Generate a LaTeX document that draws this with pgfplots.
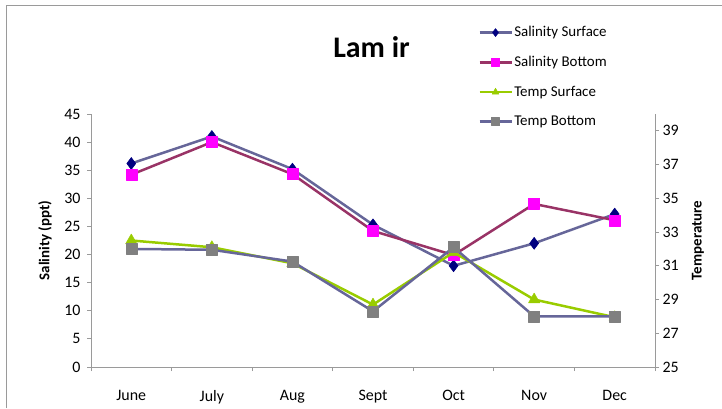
\documentclass[border=0pt]{standalone}
\usepackage{pgfplots}
\pgfplotsset{compat=1.18}
\usepackage{pgfplotstable}
\usepackage{fontspec}
\setmainfont{Carlito}
\definecolor{slate}{HTML}{666699}
\definecolor{navyc}{HTML}{000080}
\definecolor{plum}{HTML}{993366}
\definecolor{magc}{HTML}{FF00FF}
\definecolor{limec}{HTML}{99CC00}
\definecolor{greym}{HTML}{808080}
\definecolor{axgray}{HTML}{9A9A9A}

\pgfplotstableread{
x ss sb ts tb
0.5 36.2 34.2 32.5 32.0
1.5 41.0 40.0 32.1 31.95
2.5 35.2 34.3 31.15 31.25
3.5 25.3 24.2 28.7 28.3
4.5 18.0 19.9 31.8 32.1
5.5 22.0 29.0 29.0 28.0
6.5 27.2 26.1 27.95 28.0
}\datatab

\pgfplotsset{
  base/.style={
    scale only axis, width=564bp, height=253bp,
    at={(91bp,41bp)}, anchor=south west,
    xmin=0, xmax=7, clip=false,
    tick align=outside, major tick length=4bp,
    axis line style={draw=axgray, line width=0.9bp},
    every tick/.style={draw=axgray, line width=0.9bp},
    ticklabel style={font=\fontsize{16}{19}\selectfont},
    /pgf/number format/assume math mode=true,
    label style={font=\fontsize{15}{18}\selectfont\bfseries},
    legend image code/.code={\draw[mark repeat=2,mark phase=2,##1,mark size=4bp] plot coordinates {(0bp,0bp)(16bp,0bp)(32bp,0bp)};},
  },
  ssty/.style={color=slate, line width=2.5bp, line join=round, mark=diamond*, mark size=6bp, mark options={draw=navyc, fill=navyc, line width=0.5bp}},
  sbty/.style={color=plum, line width=2.5bp, line join=round, mark=square*, mark size=5.5bp, mark options={draw=magc, fill=magc, line width=0.5bp}},
  tsty/.style={color=limec, line width=2.5bp, line join=round, mark=triangle*, mark size=6.5bp, mark options={draw=limec, fill=limec, line width=0.5bp}},
  tbty/.style={color=slate, line width=2.5bp, line join=round, mark=square*, mark size=5.5bp, mark options={draw=greym, fill=greym, line width=0.5bp}},
}

\begin{document}
\begin{tikzpicture}[x=1bp,y=1bp]
\useasboundingbox (0,0) rectangle (722,408);
\draw[color=axgray, line width=1.5bp] (6.5,0) -- (6.5,402.5) -- (722,402.5);
\node[font=\fontsize{30}{36}\selectfont\bfseries, anchor=base] at (371.5,351) {Lam ir};

\begin{axis}[base,
  axis x line*=bottom, axis y line*=left,
  ymin=0, ymax=45, ytick={0,5,...,45},
  xtick={0,1,...,7},
  xticklabels={June,July,Aug,Sept,Oct,Nov,Dec},
  x tick label as interval,
  xticklabel style={yshift=-16bp},
  yticklabel style={xshift=-3bp},
  ylabel={Salinity (ppt)},
  ylabel style={at={(axis description cs:-0.0816,0.5)}, anchor=center},
]
\addplot[ssty] table[x=x,y=ss] {\datatab};
\addplot[sbty] table[x=x,y=sb] {\datatab};
\end{axis}

\begin{axis}[base,
  axis x line=none, axis y line*=right,
  ymin=25, ymax=40, ytick={25,27,...,39},
  ylabel={Temperature},
  ylabel style={at={(axis description cs:1.076,0.5)}, anchor=center},
  legend style={at={(axis description cs:0.681,1.36)}, anchor=north west,
    draw=none, fill=none, font=\fontsize{15}{18}\selectfont,
    row sep=15bp, nodes={inner sep=1.5bp}, cells={anchor=west}},
]
\addlegendimage{ssty}
\addlegendentry{Salinity Surface}
\addlegendimage{sbty}
\addlegendentry{Salinity Bottom}
\addplot[tsty] table[x=x,y=ts] {\datatab};
\addlegendentry{Temp Surface}
\addplot[tbty] table[x=x,y=tb] {\datatab};
\addlegendentry{Temp Bottom}
\end{axis}
\end{tikzpicture}
\end{document}
